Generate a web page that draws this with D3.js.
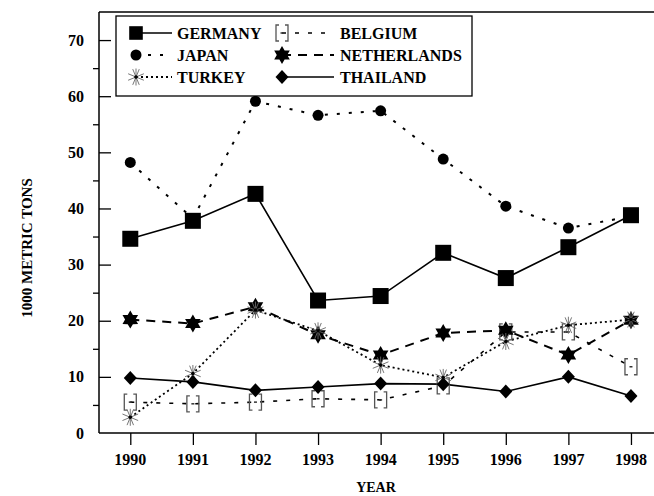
<!DOCTYPE html>
<html>
<head>
<meta charset="utf-8">
<script src="https://cdn.jsdelivr.net/npm/d3@7"></script>
<style>
	body { margin: 0; background: #fff; }
	svg text { font-family: "Liberation Serif", "Times New Roman", serif; font-weight: bold; fill: #000; }
</style>
</head>
<body>
<div id="chart"></div>
<script>
// data (1000 metric tons)
var years = [1990, 1991, 1992, 1993, 1994, 1995, 1996, 1997, 1998];
var yTicks = [0, 10, 20, 30, 40, 50, 60, 70];
var germany = [34.6, 37.8, 42.6, 23.6, 24.4, 32.1, 27.6, 33.1, 38.8];
var japan = [48.2, 38.2, 59.1, 56.6, 57.4, 48.8, 40.4, 36.5, 38.6];
var turkey = [2.8, 10.6, 21.9, 18.2, 12.1, 9.9, 16.3, 19.2, 20.2];
var belgium = [5.5, 5.2, 5.5, 6.1, 5.9, 8.4, 18.0, 18.0, 11.8];
var netherlands = [20.2, 19.5, 22.5, 17.5, 13.9, 17.8, 18.3, 13.9, 20.1];
var thailand = [9.8, 9.1, 7.6, 8.2, 8.8, 8.7, 7.4, 10.0, 6.6];

var series = [
	{name: "GERMANY", values: germany, marker: "square", dash: null, width: 1.6},
	{name: "BELGIUM", values: belgium, marker: "bracket", dash: "4,9", width: 1.6},
	{name: "JAPAN", values: japan, marker: "circle", dash: "3,9", width: 2},
	{name: "NETHERLANDS", values: netherlands, marker: "star", dash: "9,7", width: 2},
	{name: "TURKEY", values: turkey, marker: "asterisk", dash: "2,3", width: 1.8},
	{name: "THAILAND", values: thailand, marker: "diamond", dash: null, width: 1.6}
];
// order the markers are painted in (germany on top)
var markerOrder = [1, 2, 3, 4, 5, 0];

var width = 654, height = 496;
var plot = {left: 99, right: 656, top: 12, bottom: 433};

var svg = d3.select("#chart").append("svg")
	.attr("width", width)
	.attr("height", height);

var x = d3.scaleLinear().domain([1989.5, 1998.4]).range([plot.left, plot.right]);
var y = d3.scaleLinear().domain([0, 75]).range([plot.bottom, plot.top]);

// marker drawing
function drawMarker(g, type, s) {
	s = s || 1;
	if (type == "square") {
		g.append("rect").attr("x", -8 * s).attr("y", -8 * s).attr("width", 16 * s).attr("height", 16 * s).attr("fill", "#000");
	} else if (type == "circle") {
		g.append("circle").attr("r", 5.5 * s).attr("fill", "#000");
	} else if (type == "diamond") {
		g.append("path").attr("d", "M0,-7L6.5,0L0,7L-6.5,0Z").attr("fill", "#000");
	} else if (type == "star") {
		var r = 9 * s, pts = [];
		for (var i = 0; i < 12; i++) {
			var a = Math.PI / 6 * i - Math.PI / 2;
			var rr = (i % 2 == 0) ? r : r * 0.58;
			pts.push([rr * Math.cos(a), rr * Math.sin(a)]);
		}
		g.append("path").attr("d", "M" + pts.join("L") + "Z").attr("fill", "#000");
	} else if (type == "asterisk") {
		for (var k = 0; k < 8; k++) {
			var b = Math.PI / 8 * (2 * k + 1);
			g.append("line")
				.attr("x1", 0).attr("y1", 0)
				.attr("x2", 8.5 * s * Math.cos(b)).attr("y2", 8.5 * s * Math.sin(b))
				.attr("stroke", "#666").attr("stroke-width", 0.9);
		}
		g.append("line").attr("x1", 0).attr("x2", 0).attr("y1", -8.5 * s).attr("y2", 8.5 * s)
			.attr("stroke", "#666").attr("stroke-width", 0.9);
		g.append("circle").attr("r", 1.8).attr("fill", "#000");
	} else if (type == "bracket") {
		g.append("path")
			.attr("d", "M-3,-8H-6V8H-3 M3,-8H6V8H3")
			.attr("fill", "none").attr("stroke", "#555").attr("stroke-width", 1.3);
		g.append("line").attr("x1", -1.5).attr("x2", 1.5).attr("y1", 0).attr("y2", 0)
			.attr("stroke", "#333").attr("stroke-width", 1.5);
	}
}

// frame
svg.append("line").attr("x1", plot.left).attr("x2", width).attr("y1", plot.top).attr("y2", plot.top)
	.attr("stroke", "#000").attr("stroke-width", 1.5);

// y axis: major ticks inward, minor ticks outward
svg.append("g")
	.attr("transform", "translate(" + plot.left + ",0)")
	.call(d3.axisRight(y).tickValues(yTicks.slice(1)).tickSize(12).tickFormat(""))
	.call(function (g) { g.select(".domain").remove(); })
	.selectAll("line").attr("stroke-width", 1.3);

svg.append("g")
	.attr("transform", "translate(" + plot.left + ",0)")
	.call(d3.axisLeft(y).tickValues(yTicks.map(function (d) { return d + 5; }).slice(0, 7)).tickSize(6).tickFormat(""))
	.call(function (g) { g.select(".domain").remove(); })
	.selectAll("line").attr("stroke-width", 1.3);

svg.selectAll("text.ylab")
	.data(yTicks)
	.enter().append("text")
	.attr("class", "ylab")
	.attr("x", 84)
	.attr("y", function (d) { return y(d); })
	.attr("dy", "0.35em")
	.attr("text-anchor", "end")
	.attr("font-size", "16px")
	.text(function (d) { return d; });

svg.append("line").attr("x1", plot.left).attr("x2", plot.left).attr("y1", plot.top).attr("y2", plot.bottom)
	.attr("stroke", "#000").attr("stroke-width", 1.5);

// x axis
svg.append("g")
	.attr("transform", "translate(0," + plot.bottom + ")")
	.call(d3.axisBottom(x).tickValues(years).tickSize(12).tickFormat(""))
	.call(function (g) { g.select(".domain").remove(); })
	.selectAll("line").attr("stroke-width", 1.3);

svg.selectAll("text.xlab")
	.data(years)
	.enter().append("text")
	.attr("class", "xlab")
	.attr("x", function (d) { return x(d); })
	.attr("y", 465)
	.attr("text-anchor", "middle")
	.attr("font-size", "16px")
	.text(function (d) { return d; });

svg.append("line").attr("x1", plot.left).attr("x2", width).attr("y1", plot.bottom).attr("y2", plot.bottom)
	.attr("stroke", "#000").attr("stroke-width", 1.5);

// axis titles
svg.append("text")
	.attr("x", 376)
	.attr("y", 492)
	.attr("text-anchor", "middle")
	.attr("font-size", "14px")
	.text("YEAR");

svg.append("text")
	.attr("transform", "translate(32,248) rotate(-90)")
	.attr("text-anchor", "middle")
	.attr("font-size", "15px")
	.text("1000 METRIC TONS");

// lines
var line = d3.line()
	.x(function (d, i) { return x(years[i]); })
	.y(function (d) { return y(d); });

series.forEach(function (s) {
	svg.append("path")
		.datum(s.values)
		.attr("fill", "none")
		.attr("stroke", "#000")
		.attr("stroke-width", s.width)
		.attr("stroke-dasharray", s.dash)
		.attr("d", line);
});

markerOrder.forEach(function (j) {
	var s = series[j];
	s.values.forEach(function (v, i) {
		var g = svg.append("g").attr("transform", "translate(" + x(years[i]) + "," + y(v) + ")");
		drawMarker(g, s.marker);
	});
});

// legend
var legend = svg.append("g").attr("class", "legend");
legend.append("rect")
	.attr("x", 116).attr("y", 16).attr("width", 356).attr("height", 80)
	.attr("fill", "#fff").attr("stroke", "#000").attr("stroke-width", 1.3);

var legendPos = [
	{col: 0, row: 0}, {col: 1, row: 0},
	{col: 0, row: 1}, {col: 1, row: 1},
	{col: 0, row: 2}, {col: 1, row: 2}
];
var colMarker = [136, 282], colLineEnd = [172, 334], colText = [177, 340];

series.forEach(function (s, i) {
	var p = legendPos[i];
	var ly = 33 + p.row * 22;
	legend.append("line")
		.attr("x1", colMarker[p.col]).attr("x2", colLineEnd[p.col])
		.attr("y1", ly).attr("y2", ly)
		.attr("stroke", "#000")
		.attr("stroke-width", s.width)
		.attr("stroke-dasharray", s.dash);
	var g = legend.append("g").attr("transform", "translate(" + colMarker[p.col] + "," + ly + ")");
	drawMarker(g, s.marker, s.marker == "square" ? 0.85 : 1);
	legend.append("text")
		.attr("x", colText[p.col])
		.attr("y", ly)
		.attr("dy", "0.35em")
		.attr("font-size", "16px")
		.text(s.name);
});
</script>
</body>
</html>
